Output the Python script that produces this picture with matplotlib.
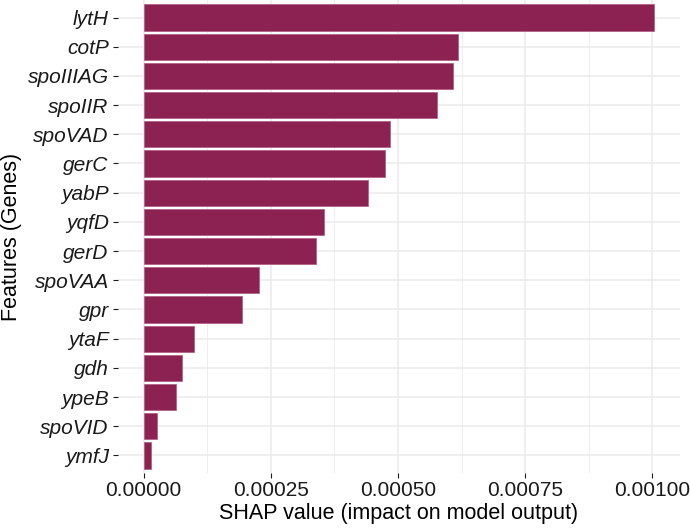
import numpy as np
import matplotlib.pyplot as plt
from matplotlib.ticker import MultipleLocator

# -------------------------
# Data
# -------------------------

genes = ["lytH", "cotP", "spoIIIAG", "spoIIR", "spoVAD", "gerC", "yabP", "yqfD",
         "gerD", "spoVAA", "gpr", "ytaF", "gdh", "ypeB", "spoVID", "ymfJ"]
shap = [0.001004, 0.000618, 0.000609, 0.000576, 0.000484, 0.000475, 0.000441, 0.000354,
        0.000338, 0.000227, 0.000193, 0.000100, 0.0000748, 0.0000638, 0.0000260, 0.0000143]
xticks = [0.0, 0.00025, 0.0005, 0.00075, 0.001]

plt.rcParams['font.family'] = ['Liberation Sans', 'DejaVu Sans']

fig = plt.figure(figsize=(6.9, 5.29), dpi=100)
ax = fig.add_axes([0.171, 0.106, 0.8145, 0.894])

ypos = np.arange(len(genes))[::-1] + 1
ax.barh(ypos, shap, height=0.9, color="#8B2252", edgecolor="#B0577F", linewidth=0.5, zorder=3)

# ggplot style expansion
xmax = max(shap)
ax.set_xlim(-0.05 * xmax, 1.05 * xmax)
ax.set_ylim(0.4, len(genes) + 0.6)

ax.set_xticks(xticks)
ax.set_xticklabels([f"{v:.5f}" for v in xticks])
ax.xaxis.set_minor_locator(MultipleLocator(0.000125))
ax.set_yticks(ypos)
ax.set_yticklabels(genes, style="italic")

ax.grid(which="major", color="#EBEBEB", linewidth=1.1, zorder=0)
ax.grid(which="minor", axis="x", color="#EBEBEB", linewidth=0.6, zorder=0)
ax.tick_params(axis="both", which="major", labelsize=15, colors="#1A1A1A",
               length=3.6, width=0.8, pad=3)
ax.tick_params(axis="x", which="major", pad=2.5)
ax.tick_params(axis="x", which="minor", length=0)
for s in ax.spines.values():
    s.set_visible(False)

ax.set_xlabel("SHAP value (impact on model output)", fontsize=15.5, color="black", labelpad=2)
ax.set_ylabel("Features (Genes)", fontsize=15.5, color="black", labelpad=4)

fig.savefig("out.png", dpi=100)
